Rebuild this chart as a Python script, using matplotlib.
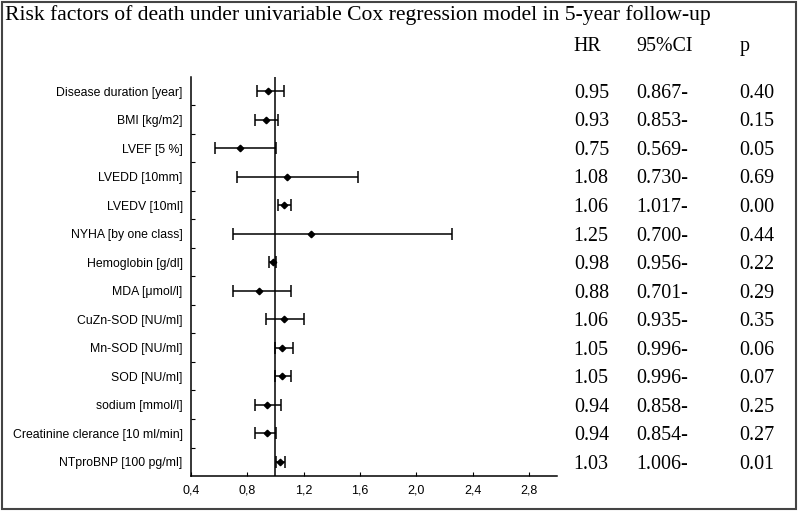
import matplotlib
matplotlib.use("Agg")
import matplotlib.pyplot as plt
import matplotlib.ticker as mticker
import matplotlib.transforms as mtransforms
from matplotlib.patches import Rectangle

labels = ["Disease duration [year]", "BMI [kg/m2]", "LVEF [5 %]", "LVEDD [10mm]",
          "LVEDV [10ml]", "NYHA [by one class]", "Hemoglobin [g/dl]", "MDA [\u03bcmol/l]",
          "CuZn-SOD [NU/ml]", "Mn-SOD [NU/ml]", "SOD [NU/ml]", "sodium [mmol/l]",
          "Creatinine clerance [10 ml/min]", "NTproBNP [100 pg/ml]"]
hr = [0.95, 0.93, 0.75, 1.08, 1.06, 1.25, 0.98, 0.88, 1.06, 1.05, 1.05, 0.94, 0.94, 1.03]
ci_low = [0.867, 0.853, 0.569, 0.730, 1.017, 0.700, 0.956, 0.701, 0.935, 0.996, 0.996,
          0.858, 0.854, 1.006]
ci_high = [1.058, 1.021, 1.002, 1.59, 1.108, 2.253, 1.007, 1.11, 1.20, 1.124, 1.108,
           1.042, 1.004, 1.068]
p_vals = [0.40, 0.15, 0.05, 0.69, 0.00, 0.44, 0.22, 0.29, 0.35, 0.06, 0.07, 0.25, 0.27, 0.01]
xticks = [0.4, 0.8, 1.2, 1.6, 2.0, 2.4, 2.8]

serif = "Liberation Serif"
sans = "Liberation Sans"

fig = plt.figure(figsize=(7.98, 5.13), dpi=100)
ax = fig.add_axes([0.2393, 0.0721, 0.698 - 0.2393, 0.85 - 0.0721])

rows = list(range(len(labels)))
err = [[h - lo for h, lo in zip(hr, ci_low)], [hi - h for h, hi in zip(hr, ci_high)]]
ax.errorbar(hr, rows, xerr=err, fmt="D", color="black", markersize=3.3,
            elinewidth=1.1, capsize=4.5, capthick=1.1)
ax.axvline(1.0, color="black", lw=1.1)

ax.set_xlim(0.4, 3.0)
ax.set_ylim(len(labels) - 0.5, -0.5)
ax.spines["top"].set_visible(False)
ax.spines["right"].set_visible(False)
for s in ("left", "bottom"):
    ax.spines[s].set_linewidth(1.1)

ax.set_xticks(xticks)
ax.xaxis.set_major_formatter(mticker.FuncFormatter(lambda v, pos: f"{v:.1f}".replace(".", ",")))
ax.tick_params(axis="x", direction="in", length=3, width=0.8, labelsize=9, pad=6)
for t in ax.get_xticklabels():
    t.set_fontfamily(sans)

ax.set_yticks(rows)
ax.set_yticklabels(labels, fontfamily=sans, fontsize=8.8)
ax.tick_params(axis="y", which="major", length=0, pad=6)
ax.set_yticks([r + 0.5 for r in rows[:-1]], minor=True)
ax.tick_params(axis="y", which="minor", direction="in", length=3, width=0.8)

# title and table text
fig.text(0.006, 0.971, "Risk factors of death under univariable Cox regression model in 5-year follow-up",
         fontfamily=serif, fontsize=15.6, va="center", ha="left")
col_x = [0.719, 0.797, 0.927]
for x, h in zip(col_x, ["HR", "95%CI", "p"]):
    fig.text(x, 0.910, h, fontfamily=serif, fontsize=14.4, va="center", ha="left")

trans = mtransforms.blended_transform_factory(fig.transFigure, ax.transData)
for r, h, lo, p in zip(rows, hr, ci_low, p_vals):
    ax.text(col_x[0], r + 0.08, f"{h:.2f}", transform=trans, fontfamily=serif, fontsize=14.4,
            va="center", ha="left", clip_on=False)
    ax.text(col_x[1], r + 0.08, f"{lo:.3f}-", transform=trans, fontfamily=serif, fontsize=14.4,
            va="center", ha="left", clip_on=False)
    ax.text(col_x[2], r + 0.08, f"{p:.2f}", transform=trans, fontfamily=serif, fontsize=14.4,
            va="center", ha="left", clip_on=False)

# outer frame
fig.patches.append(Rectangle((0.002, 0.008), 0.995, 0.989, transform=fig.transFigure,
                             fill=False, edgecolor="#444444", lw=1.5))

fig.savefig("out.png", dpi=100)
